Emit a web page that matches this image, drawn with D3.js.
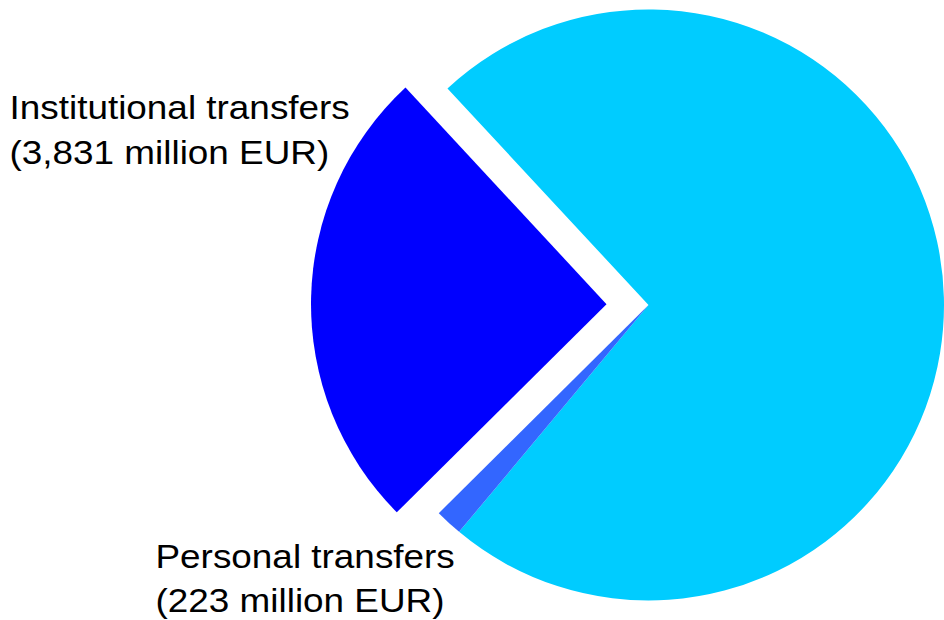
<!DOCTYPE html>
<meta charset="utf-8">
<style>
  body { margin: 0; background: #fff; }
  text { font-family: "Liberation Sans", Arial, sans-serif; fill: #000; }
</style>
<script src="https://d3js.org/d3.v7.min.js"></script>
<svg width="944" height="620"></svg>
<script>
    // slice data (million EUR); first slice has no visible label in the picture
    var categories = ["Other", "Personal transfers", "Institutional transfers"],
        values = [10950, 223, 3831],
        colors = ["#00CCFF", "#3366FF", "#0000FF"],
        labelLines = [
            null,
            ["Personal transfers", "(223 million EUR)"],
            ["Institutional transfers", "(3,831 million EUR)"]
        ],
        exploded = [0, 0, 42];

    var svg = d3.select("svg"),
        cx = 648.5, cy = 305, radius = 295.5,
        g = svg.append("g").attr("transform", "translate(" + cx + "," + cy + ")");

    var startAngle = -42.87 * Math.PI / 180;

    var pie = d3.pie()
        .sort(null)
        .value(function(d, i) { return values[i]; })
        .startAngle(startAngle)
        .endAngle(startAngle + 2 * Math.PI);

    var arc = d3.arc().innerRadius(0).outerRadius(radius);

    var arcs = pie(categories);

    g.selectAll(".slice")
        .data(arcs)
        .enter().append("path")
        .attr("class", "slice")
        .attr("fill", function(d, i) { return colors[i]; })
        .attr("transform", function(d, i) {
            var mid = (d.startAngle + d.endAngle) / 2,
                off = exploded[i];
            return "translate(" + (Math.sin(mid) * off) + "," + (-Math.cos(mid) * off) + ")";
        })
        .attr("d", arc);

    // label placement (left of the pie), glyphs a bit wider than Arial
    var labelPos = [null, {x: 155.5, y: 567.5}, {x: 9.5, y: 119}],
        lineGap = 45;

    labelLines.forEach(function(lines, i) {
        if (!lines) return;
        var t = svg.append("text")
            .attr("transform", "translate(" + labelPos[i].x + "," + labelPos[i].y + ") scale(1.085,1)")
            .style("font-size", "34px");
        lines.forEach(function(line, j) {
            t.append("tspan")
                .attr("x", 0)
                .attr("y", j * lineGap)
                .text(line);
        });
    });
</script>
